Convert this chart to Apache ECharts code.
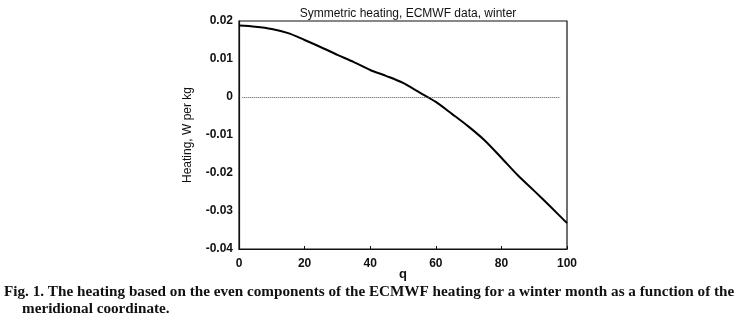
<!DOCTYPE html>
<html>
<head>
<meta charset="utf-8">
<script src="https://cdn.jsdelivr.net/npm/echarts@6/dist/echarts.min.js"></script>
<style>
  html, body { margin: 0; padding: 0; background: #fff; }
  #chart { width: 738px; height: 323px; }
</style>
</head>
<body>
<div id="chart"></div>
<script>
// q coordinate and heating values
var qValues = [0, 5, 10, 15, 20, 25, 30, 35, 40, 45, 50, 55, 60, 65, 70, 75, 80, 85, 90, 95, 100];
var heating = [0.0188, 0.0185, 0.0179, 0.0168, 0.0150, 0.0131, 0.0111, 0.0092, 0.0071, 0.0055, 0.0037,
               0.0012, -0.0013, -0.0045, -0.0078, -0.0115, -0.0160, -0.0206, -0.0247, -0.0289, -0.0332];
var xTicks = [0, 20, 40, 60, 80, 100];
var yTicks = [-0.04, -0.03, -0.02, -0.01, 0, 0.01, 0.02];

var titleText = 'Symmetric heating, ECMWF data, winter';
var captionLine1 = 'Fig. 1. The heating based on the even components of the ECMWF heating for a winter month as a function of the';
var captionLine2 = 'meridional coordinate.';

var chart = echarts.init(document.getElementById('chart'));

var pts = qValues.map(function (q, i) { return [q, heating[i]]; });

var sansFont = '"Liberation Sans", Arial, sans-serif';
var capFont = 'bold 15.2px "Liberation Serif", "DejaVu Serif", serif';

var option = {
  backgroundColor: '#fff',
  animation: false,
  title: {
    text: titleText,
    left: 403,
    textAlign: 'center',
    top: 3,
    textStyle: { fontFamily: sansFont, fontSize: 12, fontWeight: 'normal', color: '#111' }
  },
  grid: {
    left: 239, right: 171, top: 21, bottom: 74,
    show: true, borderColor: '#111', borderWidth: 1.2, backgroundColor: 'transparent'
  },
  xAxis: {
    type: 'value', min: 0, max: 100, interval: 20,
    name: 'q', nameLocation: 'middle', nameGap: 25, nameMoveOverlap: false,
    nameTextStyle: { fontFamily: sansFont, fontSize: 13, fontWeight: 'bold', color: '#111', verticalAlign: 'middle' },
    axisLine: { show: true, onZero: false, lineStyle: { color: '#111', width: 1.2 } },
    axisTick: { show: true, inside: true, length: 3, lineStyle: { color: '#111' } },
    axisLabel: {
      fontFamily: sansFont, fontSize: 12, color: '#111', fontWeight: 'bold', margin: 9,
      formatter: function (v) { return xTicks.indexOf(v) >= 0 ? String(v) : ''; }
    },
    splitLine: { show: false }
  },
  yAxis: {
    type: 'value', min: -0.04, max: 0.02, interval: 0.01,
    name: 'Heating, W per kg', nameLocation: 'middle', nameGap: 45, nameRotate: 90,
    nameMoveOverlap: false,
    nameTextStyle: { fontFamily: sansFont, fontSize: 12, color: '#111' },
    axisLine: { show: true, onZero: false, lineStyle: { color: '#111', width: 1.2 } },
    axisTick: { show: false },
    axisLabel: {
      fontFamily: sansFont, fontSize: 12, color: '#111', fontWeight: 'bold', margin: 6,
      formatter: function (v) {
        var r = Math.round(v * 100) / 100;
        return yTicks.indexOf(r) >= 0 ? String(r) : '';
      }
    },
    splitLine: { show: false }
  },
  series: [{
    type: 'line',
    data: pts,
    smooth: 0.3,
    symbol: 'none',
    lineStyle: { color: '#000', width: 2 },
    markLine: {
      silent: true,
      symbol: 'none',
      label: { show: false },
      lineStyle: { color: '#555', type: 'dotted', width: 1 },
      data: [[{ coord: [1, 0] }, { coord: [98, 0] }]]
    }
  }],
  graphic: [
    {
      type: 'text', left: 4, top: 285,
      style: { text: captionLine1, font: capFont, fill: '#111' }
    },
    {
      type: 'text', left: 22, top: 302,
      style: { text: captionLine2, font: capFont, fill: '#111' }
    }
  ]
};

chart.setOption(option);
</script>
</body>
</html>
